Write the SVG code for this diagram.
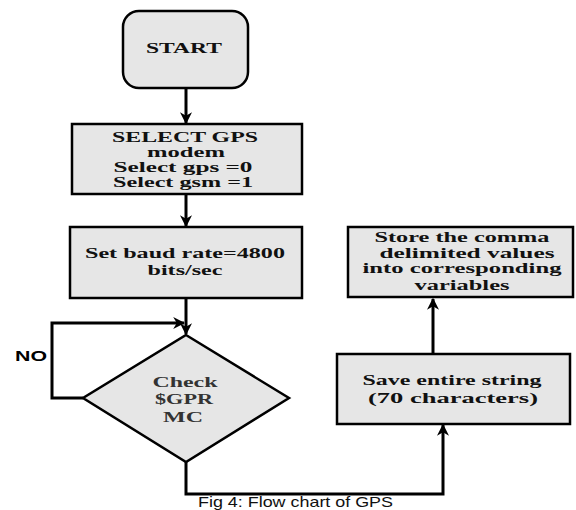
<svg xmlns="http://www.w3.org/2000/svg" width="576" height="510" viewBox="0 0 576 510">
<style>
.box{fill:#e6e6e6;stroke:#000;stroke-width:2.5}
.t{font-family:"Liberation Serif","Times New Roman",serif;font-weight:bold;font-size:15px;fill:#111;text-anchor:middle}
.tn{font-family:"Liberation Serif","Times New Roman",serif;font-weight:bold;font-size:15px;fill:#333;text-anchor:middle}
.c{fill:none;stroke:#000;stroke-width:3}
.cap{font-family:"Liberation Sans",Arial,sans-serif;font-size:15px;fill:#111}
</style>
<defs>
<marker id="ah" viewBox="0 0 10 10" refX="9" refY="5" markerWidth="4" markerHeight="4" orient="auto" markerUnits="strokeWidth">
<path d="M0,0 L10,5 L0,10 L3,5 z" fill="#000"/>
</marker>
</defs>
<rect width="576" height="510" fill="#fff"/>
<g id="connectors">
<line class="c" x1="186" y1="88" x2="186" y2="123" marker-end="url(#ah)"/>
<line class="c" x1="186" y1="195" x2="186" y2="226" marker-end="url(#ah)"/>
<line class="c" x1="186" y1="298" x2="186" y2="334" marker-end="url(#ah)"/>
<polyline class="c" points="83,398 52,398 52,323 184,323" marker-end="url(#ah)"/>
<polyline class="c" points="186,462 186,494 443,494 443,425" marker-end="url(#ah)"/>
<line class="c" x1="433" y1="353" x2="433" y2="299" marker-end="url(#ah)"/>
</g>
<g id="start">
<rect class="box" x="123" y="11" width="125" height="77" rx="16"/>
<text class="t" x="184" y="53" textLength="76" lengthAdjust="spacingAndGlyphs">START</text>
</g>
<g id="select">
<rect class="box" x="72" y="124" width="230" height="70"/>
<text class="t" x="185" y="142" textLength="146" lengthAdjust="spacingAndGlyphs">SELECT GPS</text>
<text class="t" x="186" y="157" textLength="78" lengthAdjust="spacingAndGlyphs">modem</text>
<text class="t" x="183" y="172" textLength="139" lengthAdjust="spacingAndGlyphs">Select gps =0</text>
<text class="t" x="183" y="187" textLength="140" lengthAdjust="spacingAndGlyphs">Select gsm =1</text>
</g>
<g id="baud">
<rect class="box" x="70" y="227" width="232" height="71"/>
<text class="t" x="185" y="258" textLength="200" lengthAdjust="spacingAndGlyphs">Set baud rate=4800</text>
<text class="t" x="185" y="275" textLength="75" lengthAdjust="spacingAndGlyphs">bits/sec</text>
</g>
<g id="check">
<polygon class="box" points="186,335 289,398 186,462 83,398"/>
<text class="tn" x="185" y="387" textLength="65" lengthAdjust="spacingAndGlyphs">Check</text>
<text class="tn" x="184" y="404" textLength="58" lengthAdjust="spacingAndGlyphs">$GPR</text>
<text class="tn" x="183" y="422" textLength="40" lengthAdjust="spacingAndGlyphs">MC</text>
</g>
<g id="no-label">
<text x="15" y="361" font-family="Liberation Sans,Arial,sans-serif" font-weight="bold" font-size="14" textLength="32" lengthAdjust="spacingAndGlyphs">NO</text>
</g>
<g id="save">
<rect class="box" x="337" y="354" width="233" height="70"/>
<text class="t" x="452" y="385" textLength="179" lengthAdjust="spacingAndGlyphs">Save entire string</text>
<text class="t" x="453" y="403" textLength="170" lengthAdjust="spacingAndGlyphs">(70 characters)</text>
</g>
<g id="store">
<rect class="box" x="348" y="227" width="225" height="70"/>
<text class="t" x="462" y="242" textLength="175" lengthAdjust="spacingAndGlyphs">Store the comma</text>
<text class="t" x="467" y="258" textLength="175" lengthAdjust="spacingAndGlyphs">delimited values</text>
<text class="t" x="462" y="273" textLength="199" lengthAdjust="spacingAndGlyphs">into corresponding</text>
<text class="t" x="462" y="290" textLength="95" lengthAdjust="spacingAndGlyphs">variables</text>
</g>
<g id="caption">
<text class="cap" x="198" y="507" textLength="195" lengthAdjust="spacingAndGlyphs">Fig 4: Flow chart of GPS</text>
</g>
</svg>
